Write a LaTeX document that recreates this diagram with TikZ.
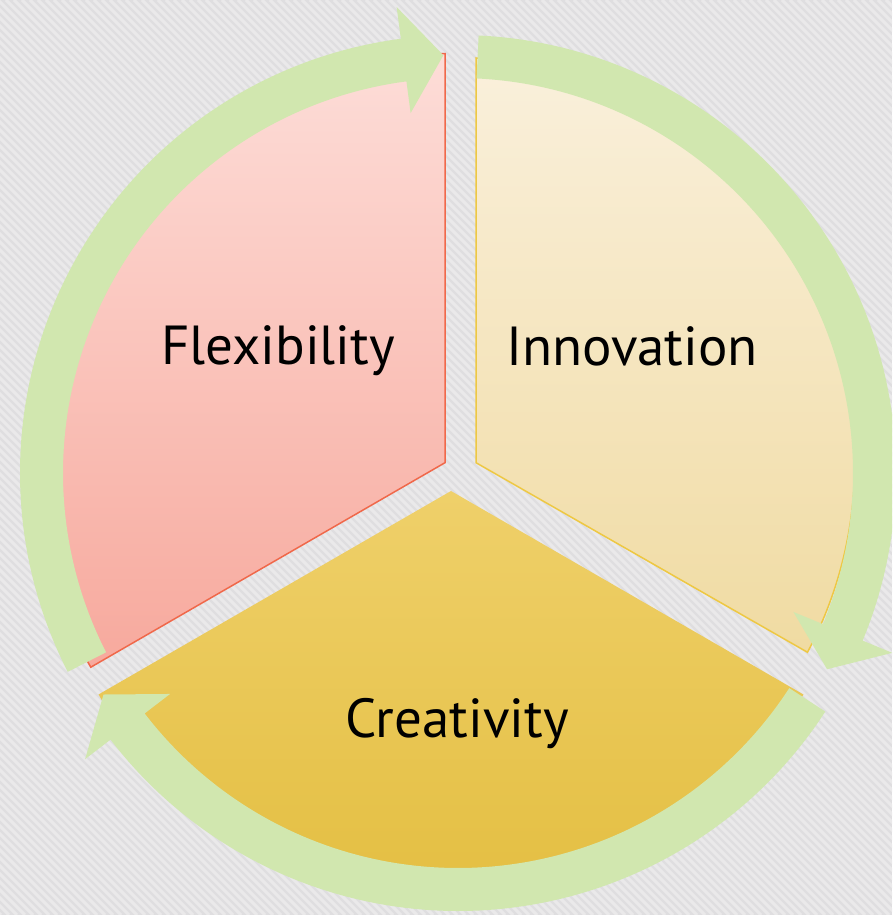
\documentclass[tikz,border=0pt]{standalone}
\usepackage{fontspec}
\setmainfont{PT Sans}

\definecolor{ringgreen}{HTML}{D1E7AF}
\definecolor{flextop}{HTML}{FDDDD8}
\definecolor{flexbot}{HTML}{F7A99D}
\definecolor{flexline}{HTML}{F0684A}
\definecolor{innotop}{HTML}{FAF0DC}
\definecolor{innobot}{HTML}{F0DBA2}
\definecolor{innoline}{HTML}{EEC843}
\definecolor{creatop}{HTML}{EFD06A}
\definecolor{creamid}{HTML}{F3D04A}
\definecolor{creabot}{HTML}{E2BC3C}
\definecolor{bgbase}{HTML}{DFDEE0}
\definecolor{bgstripe}{HTML}{EAE9EA}

\begin{document}
\begin{tikzpicture}[x=1pt,y=1pt, every node/.append style={font=\fontsize{55}{64}\selectfont,anchor=base},
                    flexpie/.style={top color=flextop,bottom color=flexbot,draw=flexline,line width=1.5},
                    innopie/.style={top color=innotop,bottom color=innobot,draw=innoline,line width=1.5},
                    creapie/.style={top color=creatop,middle color=creamid,bottom color=creabot},
                    cyclearrow/.style={fill=ringgreen}]

\clip (-458,-442) rectangle (434,473);
\fill[bgbase] (-458,-442) rectangle (434,473);
\foreach \i in {-1380,-1372,...,440}
  \draw[bgstripe,line width=3] (\i,473) -- ++(915,-915);

\draw[flexpie] (-13,10.3) -- ++(90:409) arc[start angle=90,end angle=210,radius=409] -- cycle;
\draw[innopie] (18,10.3) -- (18,415) arc[start angle=86.3,end angle=-28,radius=405] -- cycle;
\shade[creapie] (-7,-18) -- ++(210:407) arc[start angle=210,end angle=330,radius=407] -- cycle;

\node (flex) at (-180,108) {Flexibility};
\node (inno) at (174,107) {Innovation};
\node (crea) at (-1,-264) {Creativity};

\fill[cyclearrow] (207:438) arc[start angle=207,end angle=97.5,radius=438] -- (97.5:470) -- (92:418)
                  -- (97.5:363) -- (97.5:395) arc[start angle=97.5,end angle=207,radius=395] -- cycle;
\fill[cyclearrow] (87.3:438) arc[start angle=87.3,end angle=-22.5,radius=438] -- (-22.5:470) -- (-28:418)
                  -- (-22.5:363) -- (-22.5:395) arc[start angle=-22.5,end angle=87.3,radius=395] -- cycle;
\fill[cyclearrow] (-33:438) arc[start angle=-33,end angle=-142.5,radius=438] -- (-142.5:470) -- (-148:418)
                  -- (-142.5:363) -- (-142.5:395) arc[start angle=-142.5,end angle=-33,radius=395] -- cycle;

\end{tikzpicture}
\end{document}
